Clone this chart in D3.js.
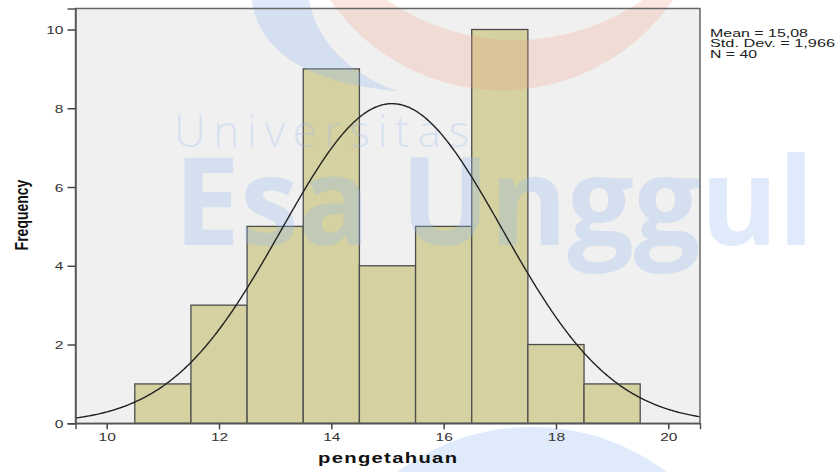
<!DOCTYPE html>
<html>
<head>
<meta charset="utf-8">
<script src="https://cdn.jsdelivr.net/npm/d3@7"></script>
<style>
  html, body { margin: 0; padding: 0; background: #ffffff; }
  svg { display: block; }
</style>
</head>
<body>
<div id="main_output"></div>
<script>
// histogram data
var binCenters = [11, 12, 13, 14, 15, 16, 17, 18, 19];
var counts = [1, 3, 5, 9, 4, 5, 10, 2, 1];
var binWidth = 1;
var xTicks = [10, 12, 14, 16, 18, 20];
var yTicks = [0, 2, 4, 6, 8, 10];
var statMean = 15.08, statSd = 1.966, statN = 40;
var statLines = ["Mean = 15,08", "Std. Dev. = 1,966", "N = 40"];
var statWidths = [98, 125, 47];

const W = 837, H = 472;
const stretch = 1.35; // the picture is widened horizontally

const plot = {left: 75.5, right: 700, top: 8.5, bottom: 423.3};

const x = d3.scaleLinear().domain([9.4444, 20.565]).range([plot.left, plot.right]);
const y = d3.scaleLinear().domain([0, 10.533]).range([plot.bottom, plot.top]);

var svg = d3.select("#main_output").append("svg")
    .attr("width", W)
    .attr("height", H);

// plot background
svg.append("rect")
    .attr("x", plot.left).attr("y", plot.top)
    .attr("width", plot.right - plot.left)
    .attr("height", plot.bottom - plot.top)
    .attr("fill", "#f0f0f0");

// bars
svg.selectAll(".bar")
    .data(binCenters)
    .enter()
    .append("rect")
    .attr("class", "bar")
    .attr("x", function(d) { return x(d - binWidth / 2); })
    .attr("y", function(d, i) { return y(counts[i]); })
    .attr("width", function(d) { return x(d + binWidth / 2) - x(d - binWidth / 2); })
    .attr("height", function(d, i) { return y(0) - y(counts[i]); })
    .attr("fill", "#d5d1a0")
    .attr("stroke", "#4d4d4d")
    .attr("stroke-width", 1.3);

// watermark (logo + university name), semi transparent on top of the bars
var wm = svg.append("g").attr("class", "watermark");
var wmBlue = "rgba(150,185,240,0.3)";

wm.append("path") // red crescent
    .attr("d", "M330,0 A208,208 0 0 0 673,0 L643,0 A225,225 0 0 1 387,0 Z")
    .attr("fill", "rgba(238,160,128,0.25)");

wm.append("path") // blue crescent
    .attr("d", "M252,0 C256,40 292,82 397,91 C345,72 316,38 309,0 Z")
    .attr("fill", wmBlue);

wm.append("circle") // blue circle at the bottom
    .attr("cx", 532).attr("cy", 652).attr("r", 225)
    .attr("fill", wmBlue);

wm.append("text")
    .attr("x", 174).attr("y", 147)
    .attr("font-family", "Open Sans, DejaVu Sans, sans-serif")
    .attr("font-weight", 300)
    .attr("font-size", 44)
    .attr("textLength", 295)
    .attr("lengthAdjust", "spacing")
    .attr("fill", wmBlue)
    .text("Universitas");

wm.append("text")
    .attr("x", 174).attr("y", 245)
    .attr("font-family", "Open Sans, DejaVu Sans, sans-serif")
    .attr("font-weight", 700)
    .attr("font-size", 122)
    .attr("textLength", 640)
    .attr("lengthAdjust", "spacingAndGlyphs")
    .attr("fill", wmBlue)
    .text("Esa Unggul");

// normal curve fitted with the stated mean and sd
var curvePts = d3.range(x.domain()[0], x.domain()[1] + 0.001, 0.02).map(function(v) {
  var z = (v - statMean) / statSd;
  return [v, statN * binWidth * Math.exp(-0.5 * z * z) / (statSd * Math.sqrt(2 * Math.PI))];
});

svg.append("path")
    .datum(curvePts)
    .attr("fill", "none")
    .attr("stroke", "#222222")
    .attr("stroke-width", 1.4)
    .attr("d", d3.line().x(function(d) { return x(d[0]); }).y(function(d) { return y(d[1]); }));

// frame
svg.append("rect")
    .attr("x", plot.left).attr("y", plot.top)
    .attr("width", plot.right - plot.left)
    .attr("height", plot.bottom - plot.top)
    .attr("fill", "none")
    .attr("stroke", "#666666")
    .attr("stroke-width", 1.5);

// axes
var xAxis = d3.axisBottom(x).tickValues(xTicks).tickSize(6).tickFormat(d3.format("d"));
var yAxis = d3.axisLeft(y).tickValues(yTicks).tickSize(8).tickFormat(d3.format("d"));

var gx = svg.append("g")
    .attr("transform", "translate(0," + plot.bottom + ")")
    .call(xAxis);
var gy = svg.append("g")
    .attr("transform", "translate(" + plot.left + ",0)")
    .call(yAxis);

[gx, gy].forEach(function(g) {
  g.select(".domain").attr("stroke", "#555555").attr("stroke-width", 1.5);
  g.selectAll(".tick line").attr("stroke", "#444444").attr("stroke-width", 1.5);
  g.selectAll(".tick text")
    .attr("font-family", "Liberation Sans, Arial, sans-serif")
    .attr("font-size", 11.5)
    .attr("fill", "#333333");
});

// widen tick labels like the picture
gx.selectAll(".tick text")
    .attr("y", 0).attr("dy", 0)
    .attr("transform", "translate(0,17.5) scale(" + stretch + ",1)");
gy.selectAll(".tick text")
    .attr("x", 0).attr("dy", 0)
    .attr("text-anchor", "end")
    .attr("transform", "translate(-12,4) scale(" + stretch + ",1)");

// axis titles
svg.append("text")
    .attr("transform", "translate(318,463) scale(" + stretch + ",1)")
    .attr("font-family", "Liberation Sans, Arial, sans-serif")
    .attr("font-weight", "bold")
    .attr("font-size", 15)
    .attr("textLength", 139 / stretch)
    .attr("lengthAdjust", "spacing")
    .attr("fill", "#111111")
    .text("pengetahuan");

svg.append("text")
    .attr("transform", "translate(27.5,215) scale(" + stretch + ",1) rotate(-90)")
    .attr("text-anchor", "middle")
    .attr("font-family", "Liberation Sans, Arial, sans-serif")
    .attr("font-weight", "bold")
    .attr("font-size", 14)
    .attr("fill", "#111111")
    .text("Frequency");

// stats box
svg.selectAll(".stat")
    .data(statLines)
    .enter()
    .append("text")
    .attr("class", "stat")
    .attr("transform", function(d, i) { return "translate(710," + (37 + i * 10.3) + ") scale(" + stretch + ",1)"; })
    .attr("font-family", "Liberation Sans, Arial, sans-serif")
    .attr("font-size", 10.3)
    .attr("textLength", function(d, i) { return statWidths[i] / stretch; })
    .attr("lengthAdjust", "spacingAndGlyphs")
    .attr("fill", "#222222")
    .text(function(d) { return d; });
</script>
</body>
</html>
